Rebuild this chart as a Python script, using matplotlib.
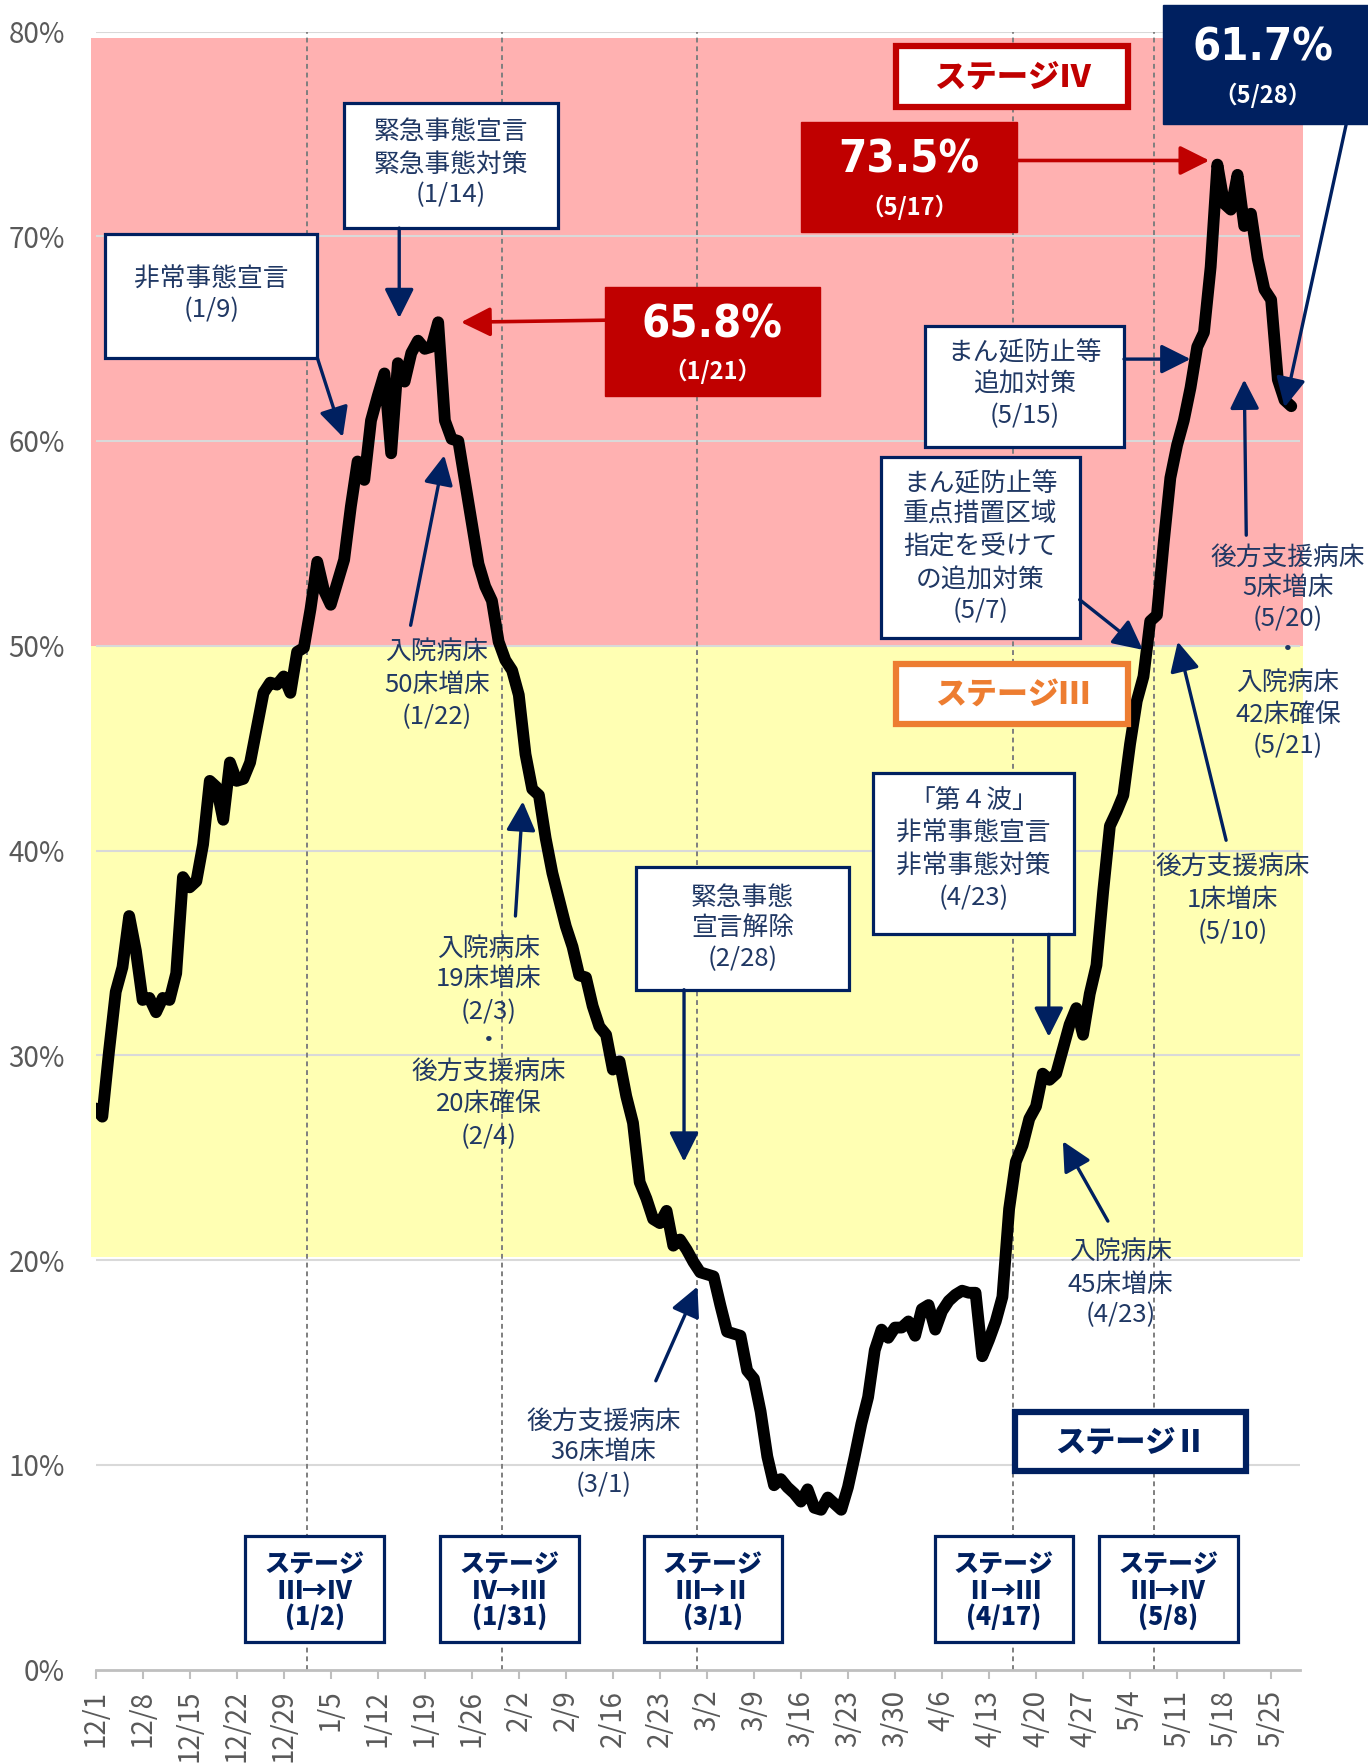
import matplotlib
matplotlib.use("Agg")
import matplotlib.pyplot as plt
from matplotlib.patches import Rectangle
from matplotlib import font_manager as fm
import pandas as pd

# ---------------- data ----------------
start_date, end_date = "2020-12-01", "2021-05-28"
rate = [
    27.4, 27.0, 30.2, 33.1, 34.3, 36.8, 35.1, 32.7, 32.8, 32.1,
    32.8, 32.7, 34.0, 38.7, 38.2, 38.5, 40.3, 43.4, 43.1, 41.5,
    44.3, 43.4, 43.5, 44.3, 46.0, 47.7, 48.2, 48.1, 48.5, 47.7,
    49.7, 49.9, 51.8, 54.1, 52.7, 52.0, 53.1, 54.2, 56.8, 59.0,
    58.1, 61.0, 62.2, 63.3, 59.4, 63.8, 62.9, 64.3, 64.9, 64.5,
    64.6, 65.8, 61.0, 60.1, 60.0, 58.0, 56.0, 54.0, 52.9, 52.2,
    50.2, 49.3, 48.8, 47.6, 44.7, 43.0, 42.7, 40.6, 38.9, 37.6,
    36.3, 35.3, 33.9, 33.8, 32.4, 31.4, 31.0, 29.3, 29.7, 28.0,
    26.7, 23.8, 23.0, 22.0, 21.8, 22.4, 20.7, 21.0, 20.5, 19.9,
    19.4, 19.3, 19.2, 17.8, 16.5, 16.4, 16.3, 14.6, 14.2, 12.6,
    10.4, 9.0, 9.3, 8.9, 8.6, 8.2, 8.8, 7.9, 7.8, 8.4,
    8.1, 7.8, 8.9, 10.4, 12.0, 13.3, 15.6, 16.6, 16.2, 16.7,
    16.7, 17.0, 16.3, 17.6, 17.8, 16.6, 17.5, 18.0, 18.3, 18.5,
    18.4, 18.4, 15.3, 16.1, 17.0, 18.2, 22.5, 24.8, 25.6, 26.9,
    27.5, 29.1, 28.8, 29.1, 30.3, 31.5, 32.3, 31.0, 33.0, 34.4,
    38.0, 41.2, 41.9, 42.7, 45.2, 47.3, 48.5, 51.2, 51.5, 55.0,
    58.2, 59.8, 61.0, 62.6, 64.6, 65.3, 68.5, 73.5, 71.6, 71.3,
    73.0, 70.5, 71.1, 68.9, 67.4, 66.9, 63.0, 62.0, 61.7,
]
dates = pd.date_range(start_date, end_date, freq="D")
xs = list(range(len(dates)))

yticks = [0, 10, 20, 30, 40, 50, 60, 70, 80]
stage_bands = [(20.15, 50.0, "#FFFFB3"), (50.0, 79.7, "#FFB1B1")]
stage_change_dates = ["2021-01-02", "2021-01-31", "2021-03-01", "2021-04-17", "2021-05-08"]
stage_change_text = [["ステージ", "Ⅲ→Ⅳ", "(1/2)"],
                     ["ステージ", "Ⅳ→Ⅲ", "(1/31)"],
                     ["ステージ", "Ⅲ→Ⅱ", "(3/1)"],
                     ["ステージ", "Ⅱ→Ⅲ", "(4/17)"],
                     ["ステージ", "Ⅲ→Ⅳ", "(5/8)"]]

# ---------------- style ----------------
NAVY = "#002060"
TXT = "#203864"
RED = "#C00000"
ORANGE = "#ED7D31"
GRAY = "#595959"
JP = "Noto Sans CJK JP"
plt.rcParams["font.family"] = [JP, "DejaVu Sans"]

names = {f.name for f in fm.fontManager.ttflist}
if "Liberation Sans Narrow" in names:
    BIG = dict(family=["Liberation Sans Narrow", "DejaVu Sans"], weight="bold")
elif any(f.name == "DejaVu Sans" and str(f.stretch) == "condensed" for f in fm.fontManager.ttflist):
    BIG = dict(family=["DejaVu Sans"], stretch="condensed", weight="bold")
else:
    BIG = dict(family=["DejaVu Sans"], weight="bold")

W, H = 1368, 1764
fig = plt.figure(figsize=(W / 100, H / 100), dpi=100)
ax = fig.add_axes([95.6 / W, 1 - 1669.5 / H, (1300 - 95.6) / W, (1669.5 - 31.5) / H])
ax.set_xlim(0, 179.3)
ax.set_ylim(0, 80)

for lo, hi, c in stage_bands:
    ax.add_patch(Rectangle((-0.7, lo), 180.4, hi - lo, fc=c, ec="none", zorder=0.2, clip_on=False))
for v in yticks[1:]:
    ax.axhline(v, color="#D9D9D9", lw=1.5, zorder=1)

for d in stage_change_dates:
    xi = dates.get_loc(pd.Timestamp(d)) - 0.5
    ax.axvline(xi, color="#7F7F7F", lw=1.4, ls=(0, (2.5, 2)), zorder=1.5)

ax.plot(xs, rate, color="black", lw=8.5, solid_joinstyle="round", solid_capstyle="round", zorder=3)

for s in ["top", "right", "left"]:
    ax.spines[s].set_visible(False)
ax.spines["bottom"].set_color("#BFBFBF")
ax.spines["bottom"].set_linewidth(2)
ax.spines["bottom"].set_zorder(2)

tick_pos = xs[::7]
ax.set_xticks(tick_pos)
ax.set_xticklabels([f"{dates[i].month}/{dates[i].day}" for i in tick_pos], rotation=90,
                   fontsize=20, color=GRAY)
ax.tick_params(axis="x", length=6.5, width=1.5, color="#BFBFBF", pad=8)
ax.set_yticks(yticks)
ax.set_yticklabels([f"{v}%" for v in yticks], fontsize=20, color=GRAY)
ax.tick_params(axis="y", length=0, pad=22)


def box(x0, x1, y0, y1, fc="white", ec=NAVY, lw=2.3, z=6):
    ax.add_patch(Rectangle((x0, y0), x1 - x0, y1 - y0, fc=fc, ec=ec, lw=lw, zorder=z, clip_on=False))


def lines(x, ys, texts, **kw):
    out = []
    opts = dict(ha="center", va="center", zorder=7, clip_on=False, fontsize=18.5, color=TXT)
    opts.update(kw)
    for y, t in zip(ys, texts):
        out.append(ax.text(x, y, t, **opts))
    return out


def arrow(p0, p1, color=NAVY, lw=2.4):
    ax.annotate("", xy=p1, xytext=p0, xycoords="data", annotation_clip=False,
                arrowprops=dict(arrowstyle="-|>,head_length=0.9,head_width=0.45", mutation_scale=20,
                                color=color, lw=lw, shrinkA=0, shrinkB=0), zorder=8)


# annotation boxes (navy border)
box(1.34, 33.0, 64.07, 70.1)
lines(17.2, [67.9, 66.4], ["非常事態宣言", "(1/9)"])
arrow((33.0, 64.07), (36.8, 60.2))

box(37.0, 68.8, 70.4, 76.5)
lines(52.9, [75.1, 73.5, 72.0], ["緊急事態宣言", "緊急事態対策", "(1/14)"])
arrow((45.2, 70.4), (45.2, 66.0))

box(123.4, 153.1, 59.7, 65.6)
lines(138.3, [64.3, 62.75, 61.2], ["まん延防止等", "追加対策", "(5/15)"])
arrow((153.1, 64.0), (163.0, 64.0))

box(116.9, 146.5, 50.4, 59.2)
lines(131.7, [57.9, 56.4, 54.8, 53.2, 51.7],
      ["まん延防止等", "重点措置区域", "指定を受けて", "の追加対策", "(5/7)"])
arrow((146.5, 52.25), (155.9, 49.8))

box(115.7, 145.7, 35.9, 43.8)
lines(130.7, [42.4, 40.8, 39.2, 37.7], ["「第４波」", "非常事態宣言", "非常事態対策", "(4/23)"])
arrow((141.9, 35.9), (141.9, 30.9))

box(80.4, 112.2, 33.2, 39.2)
lines(96.3, [37.7, 36.2, 34.7], ["緊急事態", "宣言解除", "(2/28)"])
arrow((87.6, 33.2), (87.6, 24.8))

# plain annotations
lines(50.8, [49.7, 48.1, 46.5], ["入院病床", "50床増床", "(1/22)"])
arrow((46.9, 51.0), (51.9, 59.3))
lines(58.5, [35.2, 33.7, 32.1, 30.7, 29.2, 27.6, 26.0],
      ["入院病床", "19床増床", "(2/3)", "・", "後方支援病床", "20床確保", "(2/4)"])
arrow((62.5, 36.8), (63.6, 42.4))
lines(75.6, [12.1, 10.6, 9.0], ["後方支援病床", "36床増床", "(3/1)"])
arrow((83.4, 14.1), (89.6, 18.7))
lines(152.6, [20.4, 18.8, 17.3], ["入院病床", "45床増床", "(4/23)"])
arrow((150.7, 21.9), (144.0, 25.8))
lines(169.3, [39.2, 37.6, 36.0], ["後方支援病床", "1床増床", "(5/10)"])
arrow((168.3, 40.5), (161.1, 50.2))
lines(177.5, [54.3, 52.8, 51.3, 49.8, 48.2, 46.6, 45.1],
      ["後方支援病床", "5床増床", "(5/20)", "・", "入院病床", "42床確保", "(5/21)"])
arrow((171.3, 55.4), (171.0, 63.0))

fit_list = []

# stage labels
box(119.2, 153.7, 76.3, 79.3, ec=RED, lw=4.5)
fit_list.append((lines(136.5, [77.8], ["ステージⅣ"], color=RED, fontsize=24, weight="black")[0], 157))
box(119.2, 153.7, 46.2, 49.1, ec=ORANGE, lw=4.5)
fit_list.append((lines(136.5, [47.6], ["ステージⅢ"], color=ORANGE, fontsize=24, weight="black")[0], 155))
box(136.8, 171.2, 9.7, 12.6, ec=NAVY, lw=4.5)
fit_list.append((lines(154.0, [11.1], ["ステージⅡ"], color=NAVY, fontsize=24, weight="black")[0], 151))

# big value labels
box(75.9, 107.9, 62.2, 67.5, fc=RED, ec=RED, lw=1)
t = ax.text(91.8, 65.66, "65.8%", ha="center", va="center", color="white", fontsize=40, zorder=7, **BIG)
fit_list.append((t, 141))
ax.text(91.8, 63.4, "（1/21）", ha="center", va="center", color="white", fontsize=17, zorder=7,
        weight="bold")
arrow((75.9, 65.9), (54.4, 65.8), color=RED, lw=2.6)

box(105.0, 137.2, 70.2, 75.6, fc=RED, ec=RED, lw=1)
t = ax.text(121.1, 73.7, "73.5%", ha="center", va="center", color="white", fontsize=40, zorder=7, **BIG)
fit_list.append((t, 141))
ax.text(121.1, 71.4, "（5/17）", ha="center", va="center", color="white", fontsize=17, zorder=7,
        weight="bold")
arrow((137.2, 73.7), (165.8, 73.7), color=RED, lw=2.6)

box(158.9, 190.0, 75.5, 81.3, fc=NAVY, ec=NAVY, lw=1)
t = ax.text(173.8, 79.2, "61.7%", ha="center", va="center", color="white", fontsize=40, zorder=7,
            clip_on=False, **BIG)
fit_list.append((t, 141))
ax.text(173.8, 76.9, "（5/28）", ha="center", va="center", color="white", fontsize=17, zorder=7,
        clip_on=False, weight="bold")
arrow((186.2, 75.5), (177.0, 61.65))

# stage change boxes
centers = [32.6, 61.6, 91.9, 135.2, 159.7]
for c, txt in zip(centers, stage_change_text):
    box(c - 10.3, c + 10.3, 1.32, 6.54)
    lines(c, [5.16, 3.85, 2.58], txt, color=NAVY, fontsize=18, weight="black")

fig.canvas.draw()
r = fig.canvas.get_renderer()
for t, wpx in fit_list:
    bb = t.get_window_extent(r)
    t.set_fontsize(t.get_fontsize() * wpx / bb.width)

fig.savefig("out.png", dpi=100)
